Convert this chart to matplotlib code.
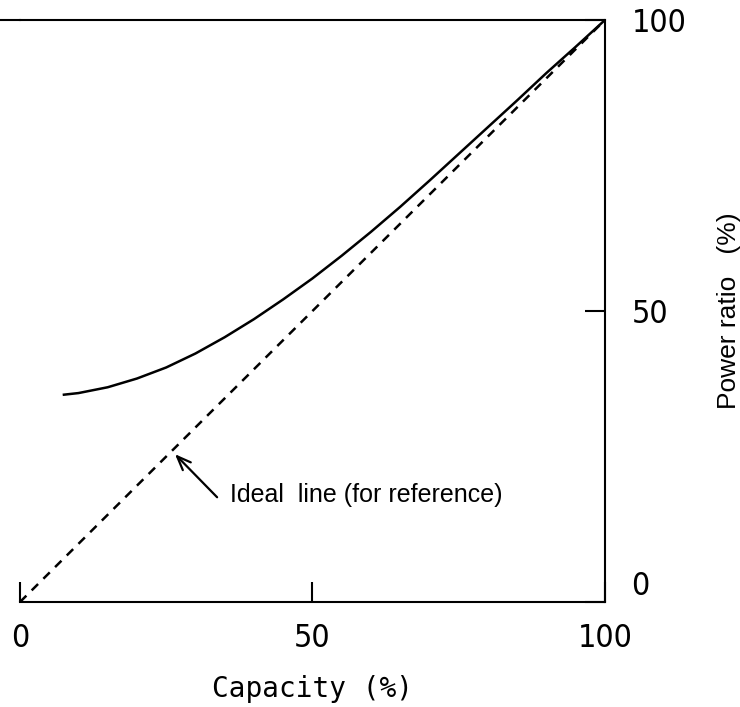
import matplotlib.pyplot as plt
import numpy as np

# curve (capacity %, power ratio %)
capacity = [7.3, 10, 15, 20, 25, 30, 35, 40, 45, 50, 55, 60, 65, 70, 75, 80, 85, 90, 95, 100]
power = [35.6, 35.9, 36.9, 38.4, 40.3, 42.7, 45.5, 48.6, 52.0, 55.6, 59.5, 63.6, 67.9, 72.4, 77.0, 81.6, 86.2, 90.9, 95.4, 100]
ideal_x = [0, 100]
ideal_y = [0, 100]
xticks = [0, 50, 100]
yticks = [0, 50, 100]

mono = "DejaVu Sans Mono"
sans = ["Liberation Sans", "DejaVu Sans"]

fig = plt.figure(figsize=(7.4, 7.07), dpi=100)
ax = fig.add_axes([0.027, 0.1485, 0.7905, 0.8232])

ax.plot(capacity, power, color="black", lw=1.8, solid_capstyle="butt", solid_joinstyle="round")
ax.plot(ideal_x, ideal_y, color="black", lw=1.8, dashes=(3.6, 3.0))

ax.set_xlim(0, 100)
ax.set_ylim(0, 100)

ax.spines["left"].set_visible(False)
for s in ["top", "right", "bottom"]:
    ax.spines[s].set_linewidth(1.5)
# top line runs out to the left edge of the picture
ax.plot([-0.035, 0], [1, 1], transform=ax.transAxes, color="black", lw=1.5, clip_on=False)

ax.set_xticks(xticks)
ax.set_yticks(yticks)
ax.yaxis.tick_right()
ax.tick_params(axis="both", direction="in", length=14.4, width=1.5, labelsize=23)
ax.tick_params(axis="x", pad=15)
ax.tick_params(axis="y", pad=19)
for lab in ax.get_xticklabels() + ax.get_yticklabels():
    lab.set_family("DejaVu Sans")
    lab.set_stretch("condensed")
ax.yaxis.get_major_ticks()[0].label2.set_va("bottom")

ax.set_xlabel("Capacity (%)", family=mono, fontsize=20, labelpad=15)
ax.yaxis.set_label_position("right")
ax.set_ylabel("Power ratio   (%)", family=sans, fontsize=19, labelpad=22)

ax.annotate("", xy=(26.5, 25.4), xytext=(33.7, 18.0),
            arrowprops=dict(arrowstyle="->,head_length=1.0,head_width=0.4", color="black", lw=1.6,
                            shrinkA=0, shrinkB=0))
ax.text(35.9, 18.4, "Ideal  line (for reference)", family=sans, fontsize=18, ha="left", va="center")

fig.savefig("out.png", dpi=100)
